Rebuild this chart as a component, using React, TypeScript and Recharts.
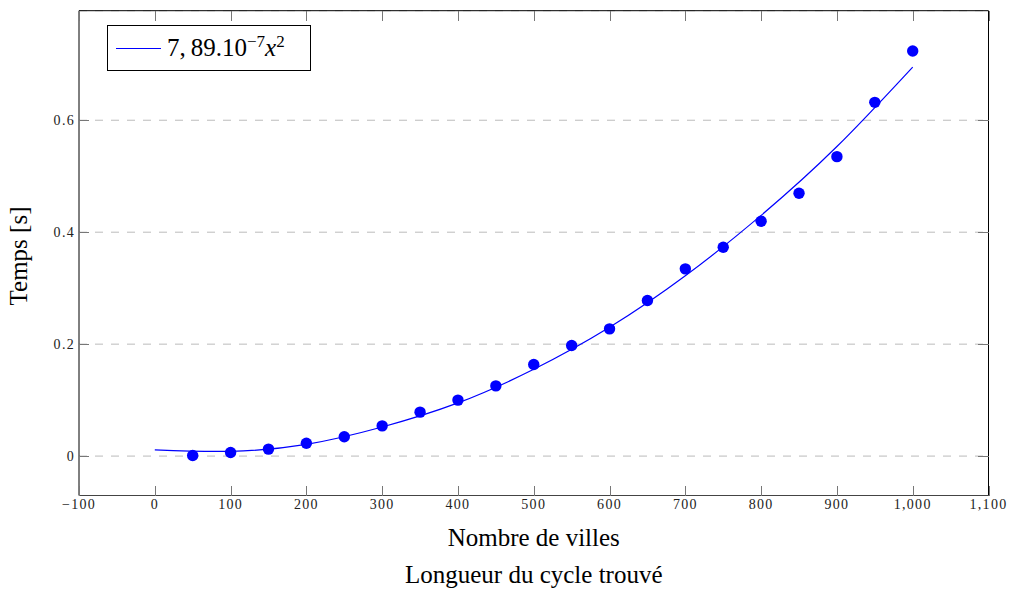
import { ComposedChart, Line, Scatter, XAxis, YAxis, CartesianGrid, Label } from 'recharts';

const cities = [50, 100, 150, 200, 250, 300, 350, 400, 450, 500, 550, 600, 650, 700, 750, 800, 850, 900, 950, 1000];
const times = [
  0.001, 0.0065, 0.0125, 0.023, 0.0345, 0.054, 0.0785, 0.1, 0.1255, 0.1636, 0.1975, 0.2273, 0.278, 0.3345, 0.373,
  0.4196, 0.4696, 0.535, 0.632, 0.7238,
];
const fitX = [0, 100, 200, 300, 400, 500, 600, 700, 800, 900, 1000];
const fitT = [0.011, 0.0085, 0.021, 0.052, 0.095, 0.155, 0.23, 0.322, 0.43, 0.553, 0.695];
const xTicks = [-100, 0, 100, 200, 300, 400, 500, 600, 700, 800, 900, 1000, 1100];
const yTicks = [0, 0.2, 0.4, 0.6];

const points = cities.map((x, i) => ({ x, t: times[i] }));
const fit = fitX.map((x, i) => ({ x, t: fitT[i] }));

const SERIF = '"Liberation Serif", "DejaVu Serif", serif';
const BLUE = '#0000ff';
const Y_DOMAIN = [-0.0704, 0.7957];
const TICK_COLOR = '#777';

const fmtX = (v: number) => {
  const s = Math.abs(v).toLocaleString('en-US');
  return v < 0 ? '\u2212' + s : s;
};

// pgfplots draws its ticks inside the frame, so the tick marks are drawn by hand here
// (snapped to whole pixels so the 1px marks stay crisp)
function BottomTick({ x, y, payload }: any) {
  const px = Math.round(x);
  const py = Math.round(y);
  return (
    <g>
      <rect x={px} y={py - 10} width={1} height={10} fill={TICK_COLOR} shapeRendering="crispEdges" />
      <text x={x} y={y + 13.5} textAnchor="middle" fontFamily={SERIF} fontSize={14} letterSpacing={1.3} fill="#222">
        {fmtX(payload.value)}
      </text>
    </g>
  );
}

function TopTick({ x, y }: any) {
  const px = Math.round(x);
  const py = Math.round(y);
  return <rect x={px} y={py} width={1} height={10} fill={TICK_COLOR} shapeRendering="crispEdges" />;
}

function LeftTick({ x, y, payload }: any) {
  return (
    <g>
      <rect x={Math.round(x)} y={Math.round(y)} width={10} height={1} fill={TICK_COLOR} shapeRendering="crispEdges" />
      <text x={x - 4} y={y + 4.5} textAnchor="end" fontFamily={SERIF} fontSize={14} letterSpacing={1.3} fill="#222">
        {String(payload.value)}
      </text>
    </g>
  );
}

function RightTick({ x, y }: any) {
  return (
    <rect x={Math.round(x) - 11} y={Math.round(y)} width={11} height={1} fill={TICK_COLOR} shapeRendering="crispEdges" />
  );
}

function FitLegend() {
  return (
    <div
      style={{
        position: 'absolute',
        left: 107,
        top: 25,
        boxSizing: 'border-box',
        border: '1px solid #000',
        width: 204,
        height: 46,
        display: 'flex',
        alignItems: 'center',
        fontFamily: SERIF,
        fontSize: 25,
        color: '#000',
        background: '#fff',
      }}
    >
      <div style={{ width: 45, height: 0, borderTop: `1px solid ${BLUE}`, marginLeft: 8, marginRight: 6 }} />
      <span style={{ whiteSpace: 'nowrap' }}>
        7,&thinsp;89.10<sup style={{ fontSize: 17, verticalAlign: 9, lineHeight: 0 }}>{'\u2212'}7</sup>
        <i>x</i>
        <sup style={{ fontSize: 17, verticalAlign: 9, lineHeight: 0 }}>2</sup>
      </span>
    </div>
  );
}

export default function App() {
  return (
    <div style={{ position: 'absolute', left: 0, top: 0, width: 1013, height: 590, background: '#fff' }}>
      <ComposedChart width={1013} height={590} margin={{ top: 9.7, right: 23.5, bottom: 93.5, left: 78 }}>
        <CartesianGrid vertical={false} stroke="#bbb" strokeDasharray="8 8" />
        <XAxis
          dataKey="x"
          type="number"
          domain={[-100, 1100]}
          ticks={xTicks}
          allowDataOverflow
          height={1}
          tickSize={0}
          tickMargin={0}
          tickLine={false}
          tick={<BottomTick />}
          axisLine={{ stroke: '#444' }}
          interval={0}
        >
          <Label
            content={({ viewBox }: any) => {
              const cx = viewBox.x + viewBox.width / 2;
              return (
                <g fontFamily={SERIF} fontSize={25} fill="#000">
                  <text x={cx} y={546} textAnchor="middle">
                    Nombre de villes
                  </text>
                  <text x={cx} y={583} textAnchor="middle">
                    Longueur du cycle trouvé
                  </text>
                </g>
              );
            }}
          />
        </XAxis>
        <XAxis
          xAxisId="top"
          dataKey="x"
          type="number"
          orientation="top"
          domain={[-100, 1100]}
          ticks={xTicks}
          allowDataOverflow
          height={1}
          tickSize={0}
          tickMargin={0}
          tickLine={false}
          tick={<TopTick />}
          axisLine={{ stroke: '#000' }}
          interval={0}
        />
        <YAxis
          type="number"
          domain={Y_DOMAIN}
          ticks={yTicks}
          allowDataOverflow
          width={1}
          tickSize={0}
          tickMargin={0}
          tickLine={false}
          tick={<LeftTick />}
          axisLine={{ stroke: '#000' }}
          interval={0}
        >
          <Label
            content={() => (
              <text
                x={27}
                y={256}
                transform="rotate(-90 27 256)"
                textAnchor="middle"
                fontFamily={SERIF}
                fontSize={25}
                fill="#000"
              >
                Temps [s]
              </text>
            )}
          />
        </YAxis>
        <YAxis
          yAxisId="right"
          type="number"
          orientation="right"
          domain={Y_DOMAIN}
          ticks={yTicks}
          allowDataOverflow
          width={1}
          tickSize={0}
          tickMargin={0}
          tickLine={false}
          tick={<RightTick />}
          axisLine={{ stroke: '#000' }}
          interval={0}
        />
        <Line
          data={fit}
          dataKey="t"
          type="natural"
          stroke={BLUE}
          strokeWidth={1.2}
          dot={false}
          activeDot={false}
          isAnimationActive={false}
        />
        <Scatter
          data={points}
          dataKey="t"
          fill={BLUE}
          isAnimationActive={false}
          shape={(p: any) => <circle cx={p.cx} cy={p.cy} r={5.7} fill={BLUE} />}
        />
      </ComposedChart>
      <FitLegend />
    </div>
  );
}
